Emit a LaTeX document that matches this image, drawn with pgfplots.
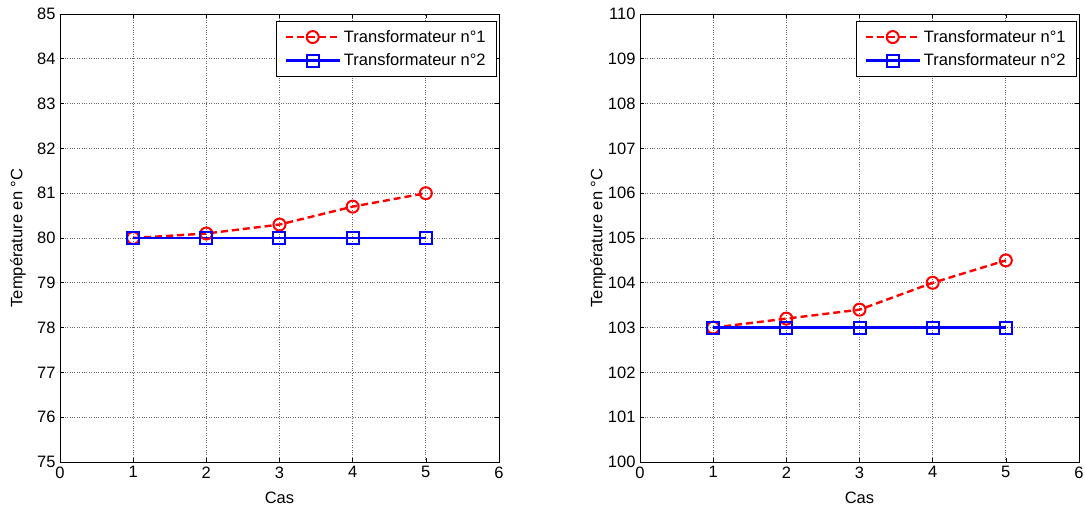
\documentclass[border=0pt]{standalone}
\usepackage{pgfplots}
\pgfplotsset{compat=1.18}
\usetikzlibrary{calc}
\usepackage{fontspec}
\setmainfont{Liberation Sans}
\newcommand{\ff}{\fontsize{16.5}{19}\selectfont}
\pgfplotsset{
  mstyle/.style={
    scale only axis, width=439pt, height=448pt,
    xmin=0, xmax=6, xtick={0,...,6},
    tick align=inside, major tick length=4pt,
    grid=major, grid style={black!60, dotted, line width=0.7pt},
    axis line style={black, line width=0.7pt},
    tick style={black, line width=0.6pt},
    /pgf/number format/assume math mode=true,
    ticklabel style={font=\ff},
    label style={font=\ff},
    xticklabel style={yshift=-1pt},
    yticklabel style={xshift=-1pt},
    xlabel={Cas}, ylabel={Température en °C},
    xlabel style={at={($(axis description cs:0.5,0)+(0,-36pt)$)}, anchor=center},
    ylabel style={at={($(axis description cs:0,0.5)+(-42pt,0)$)}, anchor=center, rotate=0},
    legend style={at={($(axis description cs:1,1)+(-2pt,-7pt)$)}, anchor=north east, draw=black, line width=0.7pt,
      font=\ff, inner xsep=8pt, inner ysep=6pt, row sep=4pt,
      nodes={inner sep=3pt},
      cells={anchor=west}},
    legend cell align=left,
    legend image code/.code={
      \draw[mark repeat=2, mark phase=2] plot coordinates {(0pt,0pt) (27pt,0pt) (54pt,0pt)};
    },
    anchor=south west,
  },
  s1/.style={color=red, dash pattern=on 7pt off 4pt, line width=2.4pt, mark=o, mark size=6pt, mark options={solid, line width=2pt, fill=none}},
  s2/.style={color=blue, solid, line width=2.4pt, mark=square, mark size=6pt, mark options={solid, line width=2pt, fill=none}},
}
\begin{document}
\begin{tikzpicture}[x=1pt,y=1pt]
\useasboundingbox (0,0) rectangle (1085,508);
\begin{axis}[mstyle, at={(60pt,46pt)}, ymin=75, ymax=85, ytick={75,...,85}]
\addplot[s1] coordinates {(1,80) (2,80.1) (3,80.3) (4,80.7) (5,81)};
\addlegendentry{Transformateur n°1}
\addplot[s2] coordinates {(1,80) (2,80) (3,80) (4,80) (5,80)};
\addlegendentry{Transformateur n°2}
\end{axis}
\begin{axis}[mstyle, at={(640pt,46pt)}, ymin=100, ymax=110, ytick={100,...,110}]
\addplot[s1] coordinates {(1,103) (2,103.2) (3,103.4) (4,104) (5,104.5)};
\addlegendentry{Transformateur n°1}
\addplot[s2] coordinates {(1,103) (2,103) (3,103) (4,103) (5,103)};
\addlegendentry{Transformateur n°2}
\end{axis}
\end{tikzpicture}
\end{document}
